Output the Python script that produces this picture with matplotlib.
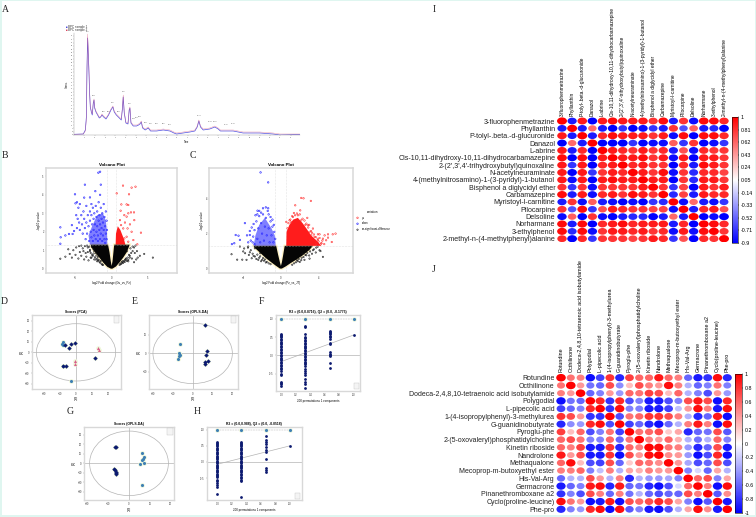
import numpy as np
import matplotlib
matplotlib.use('Agg')
import matplotlib.pyplot as plt
from matplotlib.colors import LinearSegmentedColormap, Normalize
from matplotlib.cm import ScalarMappable
from matplotlib.patches import Ellipse, Rectangle

W, H = 756, 517
NAVY = '#0c1a70'
STEEL = '#3f80b4'
PINK = '#d8608c'
FRAME = '#d8d8d8'
LINE = '#b4b4b4'

# panel A, base peak chromatogram
A_time = [0, .9, 1.1, 1.2, 1.26, 1.32, 1.39, 1.45, 1.52, 1.58, 1.68, 1.77, 1.87, 1.94, 2.0, 2.13, 2.29, 2.45,
          2.58, 2.71, 2.87, 3.1, 3.35, 3.58, 3.77, 3.9, 4.1, 4.39, 4.58, 4.68, 4.77, 4.87, 5.03, 5.23, 5.35, 5.42,
          5.52, 5.74, 6.06, 6.26, 6.39, 6.52, 6.65, 6.9, 7.19, 7.42, 8.0, 8.65, 9.29, 9.68, 9.94, 10.58, 11.23,
          11.71, 11.94, 12.1, 12.26, 12.52, 13.16, 13.65, 13.97, 14.19, 14.77, 15.42, 16.39, 18, 19.29, 19.94, 21.87]
A_blue = [.7, 1, 5, 18, 68, 97, 80, 62, 40, 28, 23, 20, 32, 35, 27, 23, 20, 17,
          18, 20, 18, 16, 20, 25, 28, 23, 20, 17, 15, 25, 38, 22, 12, 11, 25, 27,
          12, 9, 9, 10, 11, 13, 7, 5, 7, 4, 4, 5, 4, 2, 1, 2, 3,
          4, 8, 14, 8, 5, 6, 8, 6, 4, 4, 4, 2, 2, 1, 0, .5]
A_red = [.7, 1, 4, 16, 66, 101, 85, 67, 42, 28, 24, 21, 33, 36, 28, 24, 21, 18,
         18, 21, 19, 17, 21, 26, 29, 24, 21, 18, 16, 26, 40, 23, 13, 12, 26, 28,
         13, 10, 10, 11, 12, 14, 8, 6, 8, 5, 5, 6, 5, 3, 2, 3, 4,
         5, 9, 15, 9, 6, 7, 9, 7, 5, 5, 5, 3, 3, 2, 1, 1]
A_peak_x = [1.32, 1.94, 2.87, 3.35, 3.77, 4.3, 4.77, 5.42, 5.74, 6.06, 6.39, 6.9, 7.42, 8.0, 8.65, 9.29,
            12.1, 13.16, 13.65, 14.77, 15.42]
A_peak_y = [101, 36, 20, 20, 29, 20, 40, 28, 13, 14, 15, 9, 8, 8, 8, 7, 16, 10, 10, 7, 8]

# panels B and C, volcano plots
B_blue_x = [-7.1, -7.1, -7.05, -6.4, -5.9, -5.5, -5.4, -5.2, -5.07, -5, -4.8, -4.6, -4.4, -3.7, -3.8, -3, -2.26,
            -1.84, -1.6, -1.5, -1.6, -2.8, -4.9, -4.7, -4.5, -4.8, -4.4, -4.2, -4.1, -4, -3.9, -3.8, -3.7, -3.6,
            -3.5, -3.5, -3.4, -3.3, -3.2, -3.1, -3, -3, -2.9, -2.8, -2.8, -2.7, -2.6, -2.6, -2.5, -2.5, -2.4, -2.4,
            -2.3, -2.2, -2.2, -2.1, -2.1, -2, -2, -1.9, -1.9, -1.8, -1.8, -1.7, -1.7, -1.6, -1.6, -1.5, -1.5, -1.4,
            -1.4, -1.3, -1.3, -1.2, -1.2, -1.1, -1.1, -1, -1, -.9, -.9, -.8, -.8, -.7, -.7, -.65]
B_blue_y = [2.24, 1.35, 1.7, 1.8, 1.88, 2.36, 1.88, 2.04, 4.03, 3.54, 3.6, 3.3, 3.5, 4.55, 3.85, 3.86, 4.2,
            5.2, 5.25, 4.55, 4, 3.5, 2.9, 2.7, 2.5, 2.2, 2.1, 2.9, 2.4, 1.9, 3.1, 2.7, 2.2, 1.6,
            3.4, 2.5, 1.9, 2.9, 2.3, 1.5, 3.1, 2.6, 2, 1.7, 2.9, 2.4, 3.3, 1.5, 2.1, 2.7, 1.8, 3,
            2.4, 3.4, 1.6, 2, 2.8, 2.3, 3.1, 1.5, 1.8, 2.6, 3.6, 2.1, 2.9, 1.6, 2.4, 3.3, 1.9, 2.7,
            2.2, 1.5, 3, 1.8, 2.5, 3.5, 2.1, 1.6, 2.8, 2.3, 1.4, 1.9, 3.1, 2.6, 1.6, 2.1]
B_red_x = [.7, 1.57, 2.76, 3.3, 2.4, 1.34, 2.07, 2.3, 1.24, 2.67, 3.09, 2.3, 2.07, 1.75, 3.13, 4.05, 3.55, 1.84,
           1.15, 2.53, 2.2, 1.6, 1.3, 2.76, 3, 2.07, 2.3, 1.75]
B_red_y = [4.08, 4.5, 4.39, 4.44, 4.03, 3.48, 3.48, 3.45, 3.14, 3.05, 3.05, 3, 2.82, 2.9, 2.63, 1.95, 1.32, 2.5,
           2.63, 2.4, 2.18, 2.18, 2.36, 2, 1.55, 1.73, 1.46, 1.64]
B_black_x = [-7.1, -6.4, -6, -5.8, -5.5, -5.3, -5, -4.9, -4.6, -4.4, -4.2, -4, -3.8, -3.6, -3.5, -3.3, -3.2, -3, -2.9,
             -2.7, -2.5, -2.4, -2.2, -2, -1.9, 1.9, 2.1, 2.3, 2.5, 2.6, 2.8, 2.9, 3.1, 3.2, 3.4, 3.6, 3.9, 4.5, 5.7,
             -3.4, -3.1, -2.9, -2.7, -2.6, -2.4, -2.3, -2.1, -2, -1.8, -1.7, -1.5, -1.4, -1.3, -3.7, -3.3, -3, -2.8,
             -2.5, -2.2, -1.9, -1.6, -1.2, -4.2, -3.9, -4.5, 1.2, 1.4, 1.5, 1.7, 1.8, 2, 2.2, 2.4, 2.7, 2.9, 3.1,
             1.3, 1.6, 1.9, 2.1, 2.5, 3.3, 3.5, 1.1, 1.5, 2.3]
B_black_y = [.54, .65, 1.05, .8, .6, 1, .75, 1.15, .55, .9, .7, 1.1, .5, .85, .65, 1.15, .45, .95, .6,
             .75, 1.05, .5, .85, .4, .65, .5, .95, .4, .7, 1.1, .55, 1.2, .35, .85, .5, .6, .7, .8, .6,
             1.25, 1.2, .85, 1.18, .7, .95, .62, .72, .55, .48, .38, .42, .27, .22, 1.22, .9, 1.02, .6,
             .82, .5, .45, .33, .2, 1.25, .95, 1.22, .28, .36, .3, .42, .36, .55, .6, .75, .85, .95, 1.15,
             .25, .33, .48, .42, .6, 1.25, .95, .2, .4, .48]
B_core_blue_x = [-3, -3.2, -2.7, -2, -1.2, -.8, -.65, -.6]
B_core_blue_y = [1.3, 1.8, 2.3, 2.9, 3, 2.6, 2, 1.3]
B_core_red_x = [.55, .6, .85, 1.2, 1.7, 1.9]
B_core_red_y = [1.3, 1.9, 2.3, 2.1, 1.6, 1.3]
B_core_black_x = [-.1, -.6, -1.1, -1.6, -2.2, -2.8, -2.9, -.5, -.3, -.12, 0, .12, .25, .35, 2.5, 2.1, 1.6, 1.1, .6, .1]
B_core_black_y = [0, .1, .3, .55, .85, 1.15, 1.3, 1.3, .9, .4, .15, .4, .9, 1.3, 1.3, .9, .6, .35, .12, 0]

C_blue_x = [-2.16, -1.35, -2.48, -1.35, -3.82, -4.8, -4.5, -4.95, -4.35, -5.2, -3.3, -3.47, -2.94, -3, -2.8, -2.6, -2.5,
            -2.4, -2.3, -2.2, -2.1, -2, -1.9, -1.8, -1.7, -1.6, -1.5, -1.4, -1.3, -1.2, -1.1, -1, -.9, -.8, -.7, -.6,
            -3.6, -3.3, -3.2, -3.1, -2.9, -2.8, -2.7, -2.5, -2.3, -2.1, -1.9, -1.6, -1.3, -1.1, -.9, -.75]
C_blue_y = [5.5, 4.93, 3.31, 3.45, 2.6, 1.92, 1.88, 1.45, 1.64, 1.4, 1.92, 1.5, 1.83, 1.5, 2.2, 2.7, 1.7,
            2.3, 3, 1.5, 2.6, 2, 3.1, 1.6, 2.4, 2.9, 1.9, 3.3, 2.3, 1.5, 2.7, 1.9, 2.4, 1.5, 2.1, 1.7,
            1.9, 2.15, 1.6, 2.35, 2.55, 1.4, 3.05, 3.1, 3.3, 3.2, 3.45, 3.5, 3.1, 2.95, 2.8, 2.5]
C_red_x = [2.16, 2.4, 3.18, 1.52, 2.05, 1.38, 2.8, .57, 5.8, 5.5, 5, 4.64, 4.1, 5.4, 4.8, 5, 4.46, 3.93, 3.4, 3.04,
           3.57, 2.7, 1.8, 2.87, 3.22, 3.75, 4.28, 3.93, 2.16, .92, 1.27,
           .7, .8, 1, 1.1, 1.2, 1.5, 1.7, 2, 2.3, 2.5, 2.6, 2.9, 3, 3.2, 3.3, 3.5, 3.7, 3.9, 4, 4.1, 4.3, 4.4, 4.6]
C_red_y = [4.04, 4.02, 3.87, 3.62, 3.33, 3.18, 2.9, 2.67, 2, 1.96, 1.96, 1.9, 1.96, 1.52, 1.62, 1.77, 1.71, 1.62, 2.29, 2.1,
           1.81, 2.57, 3.05, 2.48, 1.9, 1.43, 1.43, 1.96, 2.76, 2.76, 2.95,
           2.3, 2.6, 2.8, 2.65, 3, 3.05, 3.15, 3.1, 2.85, 2.75, 2.5, 2.35, 2.5, 2.15, 2.05, 1.95, 1.8, 1.7, 1.55, 1.75, 1.45, 1.6, 1.4]
C_black_x = [-5.24, -4.64, -4.1, -3.65, -3.1, -4.35, -3.47, -2.76, -3.8, -3.3, -2.76, -2.4, -2.2, -1.9,
             4.46, 4.1, 3.4, 3.04, 2.3, 3.75, 2.16, 2.7, 1.7,
             -3.5, -3.2, -3, -2.9, -2.7, -2.6, -2.5, -2.3, -2.2, -2, -1.8, -1.7, -1.5, -1.3, -1.1, -3.9, -3.4, -4, -2.1, -1.6,
             1.2, 1.4, 1.6, 1.8, 1.9, 2, 2.2, 2.4, 2.5, 2.6, 2.8, 3, 3.1, 3.3, 3.5, 3.7, 3.9, 4.2]
C_black_y = [.82, .51, .51, .5, .59, 1.26, 1.26, 1.16, .88, .93, .69, .5, .88, .6,
             .67, 1.05, 1.05, .57, .86, 1.2, .48, .76, .48,
             1.2, 1.05, .85, .72, 1.25, .55, .8, .62, .7, .5, .45, .52, .38, .3, .25, 1.15, .78, .98, .42, .35,
             .22, .3, .36, .42, .55, .38, .62, .66, .5, .78, .9, .75, .98, .85, 1.1, .92, 1.25, 1]
C_core_blue_x = [-2.9, -2.7, -2.3, -1.7, -1, -.65, -.55]
C_core_blue_y = [1.3, 1.9, 2.5, 2.9, 2.3, 1.9, 1.3]
C_core_red_x = [.57, .6, .9, 1.3, 1.8, 2.3, 2.7, 3.2, 3.8, 4.3]
C_core_red_y = [1.3, 2.1, 2.5, 2.8, 2.9, 2.6, 2.3, 1.9, 1.6, 1.3]
C_core_black_x = [-.1, -.5, -1, -1.6, -2.2, -2.8, -2.9, -.5, -.3, -.1, 0, .1, .25, .4, 3.4, 3, 2.3, 1.6, 1, .5, .1]
C_core_black_y = [0, .15, .35, .6, .9, 1.2, 1.3, 1.3, .8, .35, .15, .35, .8, 1.3, 1.3, 1.05, .75, .5, .3, .12, 0]

# panels D, E, G, score plots
D_navy_x = [-6.8, -3.3, -4.1, -.6, 11.8, -8.2, -6.4]
D_navy_y = [7, 7.6, 3.8, 9.2, -5.1, -12.7, -12.7]
D_steel_x = [-8.2, -8.7, -7.8, -7.8, -2.9]
D_steel_y = [10.2, 7.6, 7, -12.7, -27]
D_pink_x = [13.8, 14.4, -.8, -.6]
D_pink_y = [3.8, 2.2, -8.3, -11.1]
E_steel_x = [-6.2, -6.7, -6.6, -7.1, -7.4]
E_steel_y = [5.3, .4, -1.1, -1.6, -2.9]
E_navy_x = [6.4, 7.4, 6.6, 7.6, 6.4, 6.4]
E_navy_y = [15.5, 1.1, -1.1, -4, -4.7, -6]
G_navy_x = [-6.4, -6.7, -7, -6.6, -6.2, -6.1, -6.1]
G_navy_y = [17, 17.5, -5.8, -7.2, -8.6, -10, -11.7]
G_steel_x = [6.4, 7, 6.6, 6.2, 5.4, 7.2, 6.4]
G_steel_y = [11.2, 7, 4.6, 3.5, -1, 0, -22.4]

# panels F and H, permutation tests
perm_x = [0, .33, .67, 1]
F_top = [1, 1, 1, 1]
F_strip_0 = [.6, .57, .54, .5, .46, .42, .38, .34, .3, .26, .22, .18, .14, .1, .06, .02, -.02, -.06, -.1, -.14, -.18,
             -.22, -.26, -.3, -.34, -.38, -.42, -.5, -.54, -.72, -.76, -.8, -.84]
F_strip_1 = [.81, .78, .6, .5, .47, .43, .39, .35, .31, .27, .23, .19, .15, .11, .07, .03, -.01, -.05, -.09, -.13, -.17,
             -.21, -.25, -.3, -.38, -.42, -.48, -.55, -.66, -.72, -.8, -.9]
F_strip_2 = [.68, .65, .62, .58, .54, .5, .46, .33, .3, .08, .05, .02, -.02, -.22, -.34]
F_end = [.56]
F_trend = [-.17, .56]
H_strip_0 = [.63, .6, .56, .52, .48, .44, .4, .36, .32, .28, .24, .2, .16, .12, .08, .04, 0, -.04, -.08, -.12, -.16,
             -.2, -.24, -.28, -.32, -.36, -.4, -.44, -.47, -.55, -.6, -.65, -.7, -.76, -1]
H_strip_1 = [.63, .6, .56, .52, .48, .44, .4, .36, .32, .28, .24, .2, .16, .12, .08, .04, 0, -.04, -.08, -.12, -.16,
             -.2, -.24, -.28, -.32, -.36, -.4, -.45, -.5, -.55, -.6, -1.09]
H_strip_2 = [.8, .68, .63, .55, .47, .37, .32, .09, -.2, -.25, -.3]
H_end = [.5]
H_trend = [-.07, .5]

# panel I, correlation matrix
I_labels = ['3-fluorophenmetrazine', 'Phyllanthin', 'P-tolyl-.beta.-d-glucuronide', 'Danazol', 'L-abrine',
            'Cis-10,11-dihydroxy-10,11-dihydrocarbamazepine', "2-(2',3',4'-trihydroxybutyl)quinoxaline",
            'N-acetylneuraminate', '4-(methylnitrosamino)-1-(3-pyridyl)-1-butanol', 'Bisphenol a diglycidyl ether',
            'Carbamazepine', 'Myristoyl-l-carnitine', 'Pilocarpine', 'Delsoline', 'Norharmane', '3-ethylphenol',
            '2-methyl-n-(4-methylphenyl)alanine']
I_corr = [
    [1, -.8, .9, -.9, .9, .95, .9, .9, .9, .8, .95, -.8, .8, -.85, .95, .95, .85],
    [-.8, 1, -.8, .6, -.8, -.9, -.7, -.9, -.85, -.7, -.8, .8, -.6, .65, -.8, -.75, -.95],
    [.9, -.8, 1, -.8, .85, .95, .9, .9, .9, .8, .9, -.85, .95, -.9, .95, .95, .85],
    [-.9, .6, -.8, 1, -.9, -.95, -.95, -.7, -.9, -.85, -.85, .65, -.7, .8, -.9, -.85, -.7],
    [.9, -.8, .85, -.9, 1, .9, .85, .8, .9, .8, .85, -.8, .7, -.85, .85, .8, .8],
    [.95, -.9, .95, -.95, .9, 1, .9, .9, .95, .8, .9, -.85, .9, -.95, .9, .9, .8],
    [.9, -.7, .9, -.95, .85, .9, 1, .85, .9, .8, .8, -.9, .85, -.8, .95, .9, .8],
    [.9, -.9, .9, -.7, .8, .9, .85, 1, .9, .8, .95, -.85, .8, -.75, .85, .85, .75],
    [.9, -.85, .9, -.9, .9, .95, .9, .9, 1, .9, .9, -.9, .8, -.75, .9, .9, .8],
    [.8, -.7, .8, -.85, .8, .8, .8, .8, .9, 1, .8, -.7, .75, -.95, .9, .8, .9],
    [.95, -.8, .9, -.85, .85, .9, .8, .95, .9, .8, 1, -.75, .75, -.8, .9, .85, .85],
    [-.8, .8, -.85, .65, -.8, -.85, -.9, -.85, -.9, -.7, -.75, 1, -.85, .6, -.8, -.85, -.7],
    [.8, -.6, .95, -.7, .7, .9, .85, .8, .8, .75, .75, -.85, 1, -.8, .85, .9, .7],
    [-.85, .65, -.9, .8, -.85, -.95, -.8, -.75, -.75, -.95, -.8, .6, -.8, 1, -.9, -.85, -.95],
    [.95, -.8, .95, -.9, .85, .9, .95, .85, .9, .9, .9, -.8, .85, -.9, 1, .95, .85],
    [.95, -.75, .95, -.85, .8, .9, .9, .85, .9, .8, .85, -.85, .9, -.85, .95, 1, .8],
    [.85, -.95, .85, -.7, .8, .8, .8, .75, .8, .9, .85, -.7, .7, -.95, .85, .8, 1],
]
I_ticks = [1, .81, .62, .43, .24, .05, -.14, -.33, -.52, -.71, -.9]

# panel J, correlation matrix
J_labels = ['Rotundine', 'Octhilinone', 'Dodeca-2,4,8,10-tetraenoic acid isobutylamide', 'Polygodial',
            'L-pipecolic acid', '1-(4-isopropylphenyl)-3-methylurea', 'G-guanidinobutyrate', 'Pyroglu-phe',
            '2-(5-oxovaleryl)phosphatidylcholine', 'Kinetin riboside', 'Nandrolone', 'Methaqualone',
            'Mecoprop-m-butoxyethyl ester', 'His-Val-Arg', 'Germacrone', 'Pinanethromboxane a2',
            'Cyclo(proline-leucine)', 'Phe-pro']
J_corr = [
    [1, .55, .5, -.95, -.75, .8, -.85, .75, .6, .6, .9, .6, .5, -.6, -.9, -.8, .95, -.85],
    [.55, 1, .4, -.55, -.6, .7, -.45, .25, .7, .5, .4, .95, .5, -.3, -.6, -.5, .55, -.5],
    [.5, .4, 1, -.6, -.5, .4, -.4, .6, .55, .75, .7, .25, .6, -.3, -.5, -.7, .4, -.4],
    [-.95, -.55, -.6, 1, .85, -.8, .85, -.7, -.5, -.9, -.9, -.7, -.5, .7, .9, .7, -.95, .85],
    [-.75, -.6, -.5, .85, 1, -.8, .95, -.5, -.5, -.9, -.9, -.75, -.25, .4, .95, .5, -.9, .95],
    [.8, .7, .4, -.8, -.8, 1, -.7, .55, .6, .8, .8, .7, .5, -.3, -.85, -.6, .9, -.95],
    [-.85, -.45, -.4, .85, .95, -.7, 1, -.75, -.6, -.85, -.95, -.6, -.3, .5, .9, .5, -.95, .95],
    [.75, .25, .6, -.7, -.5, .55, -.75, 1, .55, .6, .7, .2, .35, -.85, -.6, -.55, .7, -.65],
    [.6, .7, .55, -.5, -.5, .6, -.6, .55, 1, .5, .4, .6, .3, -.3, -.55, -.3, .6, -.5],
    [.6, .5, .75, -.9, -.9, .8, -.85, .6, .5, 1, .95, .55, .5, -.4, -.85, -.6, .7, -.9],
    [.9, .4, .7, -.9, -.9, .8, -.95, .7, .4, .95, 1, .45, .4, -.4, -.95, -.7, .85, -.95],
    [.6, .95, .25, -.7, -.75, .7, -.6, .2, .6, .55, .45, 1, .4, -.35, -.7, -.6, .7, -.7],
    [.5, .5, .6, -.5, -.25, .5, -.3, .35, .3, .5, .4, .4, 1, -.5, -.15, -.6, .35, -.3],
    [-.6, -.3, -.3, .7, .4, -.3, .5, -.85, -.3, -.4, -.4, -.35, -.5, 1, .6, .7, -.5, .35],
    [-.9, -.6, -.5, .9, .95, -.85, .9, -.6, -.55, -.85, -.95, -.7, -.15, .6, 1, .5, -.95, .95],
    [-.8, -.5, -.7, .7, .5, -.6, .5, -.55, -.3, -.6, -.7, -.6, -.6, .7, .5, 1, -.65, .45],
    [.95, .55, .4, -.95, -.9, .9, -.95, .7, .6, .7, .85, .7, .35, -.5, -.95, -.65, 1, -.9],
    [-.85, -.5, -.4, .85, .95, -.95, .95, -.65, -.5, -.9, -.95, -.7, -.3, .35, .95, .45, -.9, 1],
]
J_ticks = [1, .8, .6, .4, .2, 0, -.2, -.4, -.6, -.8, -1]

panel_letters = ['A', 'B', 'C', 'D', 'E', 'F', 'G', 'H', 'I', 'J']
letter_x = [2, 2, 190, 1, 132, 259, 67, 194, 433, 432]
letter_y = [10, 155, 155, 301, 301, 301, 411, 411, 10, 270]


def px_axes(fig, left, top, right, bottom):
    return fig.add_axes([left / W, 1 - bottom / H, (right - left) / W, (bottom - top) / H])


def style_frame(ax, width=1.0):
    for s in ax.spines.values():
        s.set_color(FRAME)
        s.set_linewidth(width)
    ax.tick_params(labelsize=1.8, length=1, width=.25, pad=.6, color='#777777', labelcolor='#333333')


def small_labels(ax, title, xlabel, ylabel):
    ax.set_title(title, fontsize=2.4, fontweight='bold', pad=1.5)
    ax.set_xlabel(xlabel, fontsize=2.1, labelpad=1)
    ax.set_ylabel(ylabel, fontsize=2.1, labelpad=1)


def draw_chromatogram(fig):
    ax = px_axes(fig, 74, 33, 300, 135)
    ax.plot(A_time, A_blue, color='#5050e0', lw=.5)
    ax.plot(A_time, A_red, color='#e06080', lw=.3, alpha=.7)
    ax.set_xlim(0, 21.9)
    ax.set_ylim(0, 102)
    ax.set_xticks(np.arange(1, 22))
    ax.set_yticks(np.arange(0, 102, 3.3))
    ax.set_yticklabels([f'{v:.0f}' for v in np.arange(0, 102, 3.3)])
    for s in ['top', 'right']:
        ax.spines[s].set_visible(False)
    for s in ['left', 'bottom']:
        ax.spines[s].set_color('#999999')
        ax.spines[s].set_linewidth(.3)
    ax.tick_params(labelsize=1.3, length=.8, width=.2, pad=.3, color='#777777', labelcolor='#444444')
    for x, y in zip(A_peak_x, A_peak_y):
        ax.text(x, y + 2.5, f'{x:.2f}', fontsize=1.4, ha='center', va='bottom', color='#444444')
    ax.set_ylabel('Intens.', fontsize=1.8, labelpad=1)
    ax.set_xlabel('Time', fontsize=1.8, labelpad=1.5)
    fig.text(66 / W, 1 - 27 / H, '\u25a0', color='#2a2ad0', fontsize=1.8, va='center')
    fig.text(66 / W, 1 - 30 / H, '\u25a0', color='#d02040', fontsize=1.8, va='center')
    fig.text(68.5 / W, 1 - 27 / H, 'BPC sample 1', color='#333333', fontsize=2.2, va='center')
    fig.text(68.5 / W, 1 - 30 / H, 'BPC sample 2', color='#333333', fontsize=2.2, va='center')


def draw_volcano(fig, rect, xlim, ylim, xticks, yticks, xlabel, blue, red, black, cores, legend=False):
    ax = px_axes(fig, *rect)
    style_frame(ax, 1.1)
    ax.fill(cores[2][0], cores[2][1], color='#fff2c4', lw=1.8, zorder=1)
    ax.fill(cores[0][0], cores[0][1], color='#3030ff', alpha=.62, lw=0, zorder=2)
    ax.fill(cores[1][0], cores[1][1], color='#ff1c1c', lw=0, zorder=2)
    ax.fill(cores[2][0], cores[2][1], color='#050505', lw=0, zorder=3)
    h1 = ax.scatter(red[0], red[1], s=1.2, facecolors='none', edgecolors='#ff2828', linewidths=.4, zorder=4)
    h2 = ax.scatter(blue[0], blue[1], s=1.2, facecolors='none', edgecolors='#2a2aff', linewidths=.45, zorder=4)
    h3 = ax.scatter(black[0], black[1], s=1, facecolors='none', edgecolors='#111111', linewidths=.4, zorder=4)
    ax.axhline(1.3, color='#cccccc', lw=.4, ls=':', zorder=5)
    ax.axvline(-.58, color='#cccccc', lw=.4, ls=':', zorder=1)
    ax.axvline(.58, color='#cccccc', lw=.4, ls=':', zorder=1)
    ax.set_xlim(*xlim)
    ax.set_ylim(*ylim)
    ax.set_xticks(xticks)
    ax.set_yticks(yticks)
    small_labels(ax, 'Volcano Plot', xlabel, '-log10 p-value')
    ax.title.set_fontsize(3.2)
    if legend:
        ax.legend([h1, h2, h3], ['up', 'down', 'no-significant-difference'], title='variation', fontsize=2,
                  title_fontsize=2.1, frameon=False, loc='center left', bbox_to_anchor=(1.0, .5),
                  labelspacing=.7, handletextpad=.6, borderaxespad=.4)


def draw_scores(fig, rect, xlim, ylim, xticks, yticks, radii, title, groups):
    ax = px_axes(fig, *rect)
    style_frame(ax)
    ax.add_patch(Ellipse((0, 0), 2 * radii[0], 2 * radii[1], fill=False, ec=LINE, lw=.5))
    ax.axhline(0, color=LINE, lw=.5)
    ax.axvline(0, color=LINE, lw=.5)
    for xs, ys, col, mk in groups:
        ax.scatter(xs, ys, s=11, color='#eef7d8', lw=0, zorder=2)
        ax.scatter(xs, ys, s=5, color=col, marker=mk, lw=0, zorder=3)
    ax.set_xlim(*xlim)
    ax.set_ylim(*ylim)
    ax.set_xticks(xticks)
    ax.set_yticks(yticks)
    small_labels(ax, title, 't[1]', 't[2]')
    ax.add_patch(Rectangle((.925, .89), .06, .09, transform=ax.transAxes, fc='#f4f4f4', ec='#c4c4c4', lw=.3, zorder=4))


def draw_permutation(fig, rect, xlim, ylim, title, strips, end, trend):
    ax = px_axes(fig, *rect)
    style_frame(ax)
    ax.axhline(0, color=LINE, lw=.5, zorder=1)
    ax.plot([perm_x[0], perm_x[3]], trend, color=LINE, lw=.5, zorder=1)
    ax.plot(perm_x, F_top, color=LINE, lw=.35, ls='--', zorder=1)
    ax.scatter(perm_x, F_top, s=11, color='#eef7d8', lw=0, zorder=2)
    ax.scatter(perm_x, F_top, s=5, color=STEEL, lw=0, zorder=3)
    for x, ys in zip(perm_x, strips):
        ax.scatter([x] * len(ys), ys, s=4, color=NAVY, lw=0, zorder=3)
    ax.scatter(perm_x[3], end, s=4, color=NAVY, lw=0, zorder=3)
    ax.set_xlim(*xlim)
    ax.set_ylim(*ylim)
    ax.set_xticks([0, .2, .4, .6, .8, 1])
    ax.set_yticks([1, .5, 0, -.5])
    ax.set_yticklabels(['1.0', '0.5', '0.0', '-0.5'])
    small_labels(ax, title, '200 permutations 1 components', '')
    ax.add_patch(Rectangle((.925, .02), .06, .08, transform=ax.transAxes, fc='#f4f4f4', ec='#c4c4c4', lw=.3, zorder=4))


def draw_corr(fig, first, last, colorbar, labels, corr, ticks, vmin, label_fonts):
    n = len(labels)
    dx = (last[0] - first[0]) / (n - 1)
    dy = (last[1] - first[1]) / (n - 1)
    ax = px_axes(fig, first[0] - dx / 2, first[1] - dy / 2, last[0] + dx / 2, last[1] + dy / 2)
    cmap = LinearSegmentedColormap.from_list('corr', ['#0000ff', '#ffffff', '#ff0000'])
    norm = Normalize(vmin, 1)
    for i, row in enumerate(corr):
        for j, r in enumerate(row):
            size = .64 + .34 * abs(r)
            ax.add_patch(Ellipse((j, i), size, size, color=cmap(norm(r)), lw=0))
    ax.set_xlim(-.5, n - .5)
    ax.set_ylim(n - .5, -.5)
    ax.xaxis.tick_top()
    ax.set_xticks(range(n))
    ax.set_yticks(range(n))
    ax.set_xticklabels(labels, rotation=90, fontsize=label_fonts[0])
    ax.set_yticklabels(labels, fontsize=label_fonts[1], color='#222222')
    ax.tick_params(length=0, pad=1.2)
    for s in ax.spines.values():
        s.set_visible(False)
    cax = px_axes(fig, *colorbar)
    cb = fig.colorbar(ScalarMappable(norm, cmap), cax=cax, ticks=ticks, format='%g')
    cb.ax.tick_params(labelsize=3.8, length=1, width=.3, pad=1)
    cb.outline.set_linewidth(.4)


def main():
    fig = plt.figure(figsize=(W / 100, H / 100), dpi=100, facecolor='#dff6f0')
    plt.rcParams['font.family'] = ['Liberation Sans', 'DejaVu Sans']

    bg = fig.add_axes([0, 0, 1, 1], zorder=-1)
    bg.set_xlim(0, W)
    bg.set_ylim(H, 0)
    bg.axis('off')
    bg.add_patch(Rectangle((2, 1), 753, 514, fc='white', lw=0))
    for s, x, y in zip(panel_letters, letter_x, letter_y):
        bg.text(x, y, s, family='Liberation Serif', fontsize=7, va='center', color='#222222')

    draw_chromatogram(fig)

    draw_volcano(fig, (46, 167.7, 177.3, 273.3), (-9.08, 9.08), (-.25, 5.47), [-5, 0, 5], [0, 1, 2, 3, 4, 5],
                 'log2 Fold change (Gu_vs_Pz)', (B_blue_x, B_blue_y), (B_red_x, B_red_y), (B_black_x, B_black_y),
                 [(B_core_blue_x, B_core_blue_y), (B_core_red_x, B_core_red_y), (B_core_black_x, B_core_black_y)])
    draw_volcano(fig, (209.3, 167.7, 352.5, 273.3), (-7.6, 7.6), (-.27, 5.77), [-4, 0, 4], [0, 2, 4],
                 'log2 Fold change (Pz_vs_JT)', (C_blue_x, C_blue_y), (C_red_x, C_red_y), (C_black_x, C_black_y),
                 [(C_core_blue_x, C_core_blue_y), (C_core_red_x, C_core_red_y), (C_core_black_x, C_core_black_y)],
                 legend=True)

    draw_scores(fig, (31.7, 315, 120.7, 389.3), (-27.4, 27.6), (-35.2, 35.6), [-20, -10, 0, 10, 20],
                [-30, -20, -10, 0, 10, 20, 30], (24.5, 27.3), 'Scores (PCA)',
                [(D_steel_x, D_steel_y, STEEL, 'o'), (D_navy_x, D_navy_y, NAVY, 'D'), (D_pink_x, D_pink_y, PINK, '^')])
    draw_scores(fig, (149, 315, 237.7, 389.3), (-22, 22.7), (-19.6, 20.9), [-20, -10, 0, 10, 20], [-10, 0, 10],
                (20, 16.5), 'Scores (OPLS-DA)',
                [(E_steel_x, E_steel_y, STEEL, 'o'), (E_navy_x, E_navy_y, NAVY, 'D')])
    draw_scores(fig, (84, 426.7, 174, 500), (-21.6, 21.6), (-38.6, 38.6), [-20, -10, 0, 10, 20],
                [-30, -20, -10, 0, 10, 20, 30], (18.9, 34), 'Scores (OPLS-DA)',
                [(G_steel_x, G_steel_y, STEEL, 'o'), (G_navy_x, G_navy_y, NAVY, 'D')])

    draw_permutation(fig, (276, 315, 360, 391), (-.074, 1.088), (-.98, 1.11),
                     'R2 = (0.0,0.8716), Q2 = (0.0, -0.1775)', [F_strip_0, F_strip_1, F_strip_2], F_end, F_trend)
    draw_permutation(fig, (206.7, 426.7, 301.7, 500), (-.147, 1.16), (-1.175, 1.09),
                     'R2 = (0.0,0.988), Q2 = (0.0, -0.0518)', [H_strip_0, H_strip_1, H_strip_2], H_end, H_trend)

    draw_corr(fig, (562, 121), (724, 238.7), (732, 117, 738, 243), I_labels, I_corr, I_ticks, -.9, (3.5, 5.1))
    draw_corr(fig, (561, 377.7), (727.3, 509.3), (735, 374, 741.7, 513), J_labels, J_corr, J_ticks, -1, (3.9, 5.0))
    bg.text(680, 205, '11', fontsize=4.5, ha='center', va='center', color='#222222', zorder=10)

    plt.savefig('out.png', dpi=100, facecolor=fig.get_facecolor())
    plt.close('all')


if __name__ == '__main__':
    main()
